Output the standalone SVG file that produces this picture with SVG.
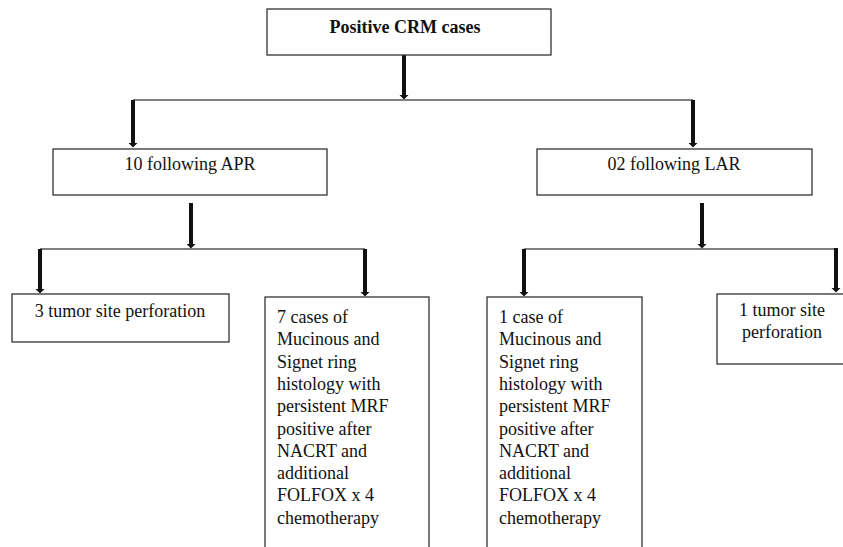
<svg xmlns="http://www.w3.org/2000/svg" width="843" height="547" viewBox="0 0 843 547">
<style>
.box{fill:#fff;stroke:#333;stroke-width:1.3}
text{font-family:'Liberation Serif','Times New Roman',Tinos,'DejaVu Serif',serif;font-size:18px;fill:#111}
.c{text-anchor:middle}
.b{font-weight:bold}
.h{stroke:#555;stroke-width:1.5;fill:none}
.a{stroke:#111;stroke-width:4;fill:none;marker-end:url(#ah)}
</style>
<defs>
<marker id="ah" markerUnits="userSpaceOnUse" markerWidth="5" markerHeight="10" viewBox="0 -5 5 10" refX="0" refY="0" orient="auto">
<path d="M0,-4.5 L4.5,0 L0,4.5 z" fill="#111"/>
</marker>
</defs>
<rect width="843" height="547" fill="#fff"/>
<g id="connectors">
<line class="a" x1="404" y1="55" x2="404" y2="95"/>
<line class="h" x1="133" y1="100" x2="693" y2="100"/>
<line class="a" x1="133" y1="100" x2="133" y2="143"/>
<line class="a" x1="693" y1="100" x2="693" y2="143"/>
<line class="a" x1="191" y1="203" x2="191" y2="244"/>
<line class="h" x1="40" y1="249" x2="365" y2="249"/>
<line class="a" x1="40" y1="249" x2="40" y2="289"/>
<line class="a" x1="365" y1="249" x2="365" y2="292"/>
<line class="a" x1="702" y1="203" x2="702" y2="244"/>
<line class="h" x1="524" y1="249" x2="836" y2="249"/>
<line class="a" x1="524" y1="249" x2="524" y2="292"/>
<line class="a" x1="836" y1="248" x2="836" y2="288"/>
</g>
<g id="root">
<rect class="box" x="267" y="9" width="284" height="46"/>
<text class="c b" x="405" y="33" font-family="Liberation Serif, serif">Positive CRM cases</text>
</g>
<g id="apr">
<rect class="box" x="53" y="149" width="274" height="46"/>
<text class="c" x="190" y="170">10 following APR</text>
</g>
<g id="lar">
<rect class="box" x="537" y="149" width="275" height="46"/>
<text class="c" x="674" y="170">02 following LAR</text>
</g>
<g id="apr-perforation">
<rect class="box" x="12" y="294" width="217" height="48"/>
<text class="c" x="120" y="317">3 tumor site perforation</text>
</g>
<g id="apr-mucinous">
<rect class="box" x="265" y="297" width="164" height="270"/>
<text x="277" y="323">7 cases of</text>
<text x="277" y="345.3">Mucinous and</text>
<text x="277" y="367.6">Signet ring</text>
<text x="277" y="389.9">histology with</text>
<text x="277" y="412.2">persistent MRF</text>
<text x="277" y="434.5">positive after</text>
<text x="277" y="456.8">NACRT and</text>
<text x="277" y="479.1">additional</text>
<text x="277" y="501.4">FOLFOX x 4</text>
<text x="277" y="523.7">chemotherapy</text>
</g>
<g id="lar-mucinous">
<rect class="box" x="487" y="297" width="155" height="270"/>
<text x="499" y="323">1 case of</text>
<text x="499" y="345.3">Mucinous and</text>
<text x="499" y="367.6">Signet ring</text>
<text x="499" y="389.9">histology with</text>
<text x="499" y="412.2">persistent MRF</text>
<text x="499" y="434.5">positive after</text>
<text x="499" y="456.8">NACRT and</text>
<text x="499" y="479.1">additional</text>
<text x="499" y="501.4">FOLFOX x 4</text>
<text x="499" y="523.7">chemotherapy</text>
</g>
<g id="lar-perforation">
<rect class="box" x="717" y="294" width="140" height="70"/>
<text class="c" x="782" y="316">1 tumor site</text>
<text class="c" x="782" y="338">perforation</text>
</g>
</svg>
